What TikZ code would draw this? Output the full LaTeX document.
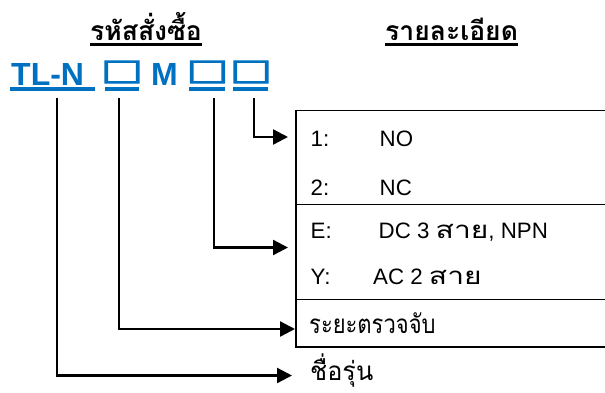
\documentclass[tikz,border=0pt]{standalone}
\usepackage{fontspec}
\usepackage{graphicx}
\setmainfont{Liberation Sans}
\newfontfamily\thai[Script=Thai]{Loma}
\newfontfamily\sqfont[FakeBold=3]{Liberation Sans}
\usetikzlibrary{arrows.meta}
\definecolor{codeblue}{RGB}{0,112,192}
\newcommand{\bigsq}{\resizebox{34pt}{22pt}{\sqfont □}}
\tikzset{
  txt/.style={inner sep=0pt, anchor=base west},
  code/.style={txt, text=codeblue, font=\fontsize{32}{34}\selectfont\bfseries},
  sq/.style={inner sep=0pt, anchor=base, text=codeblue, font=\fontsize{32}{34}\selectfont},
  title/.style={txt, font=\fontsize{26.5}{28}\selectfont\thai\bfseries},
  row/.style={txt, font=\fontsize{22.3}{24}\selectfont},
  thairow/.style={txt, font=\fontsize{26}{28}\selectfont\thai},
  uline/.style={line width=3.5pt, codeblue},
  tline/.style={line width=3pt, black},
  conn/.style={line width=2.3pt, -{Triangle[length=15pt,width=15pt]}},
  frame/.style={line width=1.8pt}
}
\newcommand{\thtxt}[1]{\scalebox{1.25}[1]{\thai\fontsize{24}{26}\selectfont #1}}
\begin{document}
\begin{tikzpicture}[x=1pt,y=-1pt]
\useasboundingbox (0,0) rectangle (605,392);
% titles
\node[title] (t1) at (90,40) {รหัสสั่งซื้อ};
\node[title] (t2) at (385,40) {รายละเอียด};
\draw[tline] (90,44.5) -- (202,44.5);
\draw[tline] (385,44.5) -- (518,44.5);
% code
\node[code] (tln) at (11,85) {TL-N};
\node[sq] (sq1) at (122,83) {\bigsq};
\node[code] (m) at (151,85) {M};
\node[sq] (sq2) at (207.5,83) {\bigsq};
\node[sq] (sq3) at (251,83) {\bigsq};
\draw[uline] (10,89) -- (95,89);
\draw[uline] (105,89) -- (139,89);
\draw[uline] (189,89) -- (225,89);
\draw[uline] (233,89) -- (268,89);
% frame
\draw[frame] (605,110.5) -- (296,110.5) -- (296,347) -- (605,347);
\draw[frame] (296,204.5) -- (605,204.5);
\draw[frame] (296,299.5) -- (605,299.5);
% rows
\node[row] (r1a) at (310.5,146) {1:};
\node[row] (r1b) at (379.5,146) {NO};
\node[row] (r2a) at (310.5,195) {2:};
\node[row] (r2b) at (379.5,195) {NC};
\node[row] (r3a) at (310.5,238) {E:};
\node[row] (r3b) at (378.5,238) {DC 3 \thtxt{สาย}, NPN};
\node[row] (r4a) at (310.5,284.5) {Y:};
\node[row] (r4b) at (373,284.5) {AC 2 \thtxt{สาย}};
\node[thairow] (r5) at (309,333) {\scalebox{0.845}[1]{ระยะตรวจจับ}};
\node[thairow] (r6) at (310,380) {\scalebox{0.97}[1]{ชื่อรุ่น}};
% connector endpoints
\coordinate (a1) at (57,98);
\coordinate (a2) at (119,98);
\coordinate (a3) at (214,98);
\coordinate (a4) at (254,98);
\coordinate (e1) at (288,137);
\coordinate (e3) at (288,247.5);
\coordinate (e5) at (295,329);
\coordinate (e6) at (292,375.5);
\draw[conn] (a4) |- (e1);
\draw[conn] (a3) |- (e3);
\draw[conn] (a2) |- (e5);
\draw[conn] (a1) |- (e6);
\end{tikzpicture}
\end{document}
